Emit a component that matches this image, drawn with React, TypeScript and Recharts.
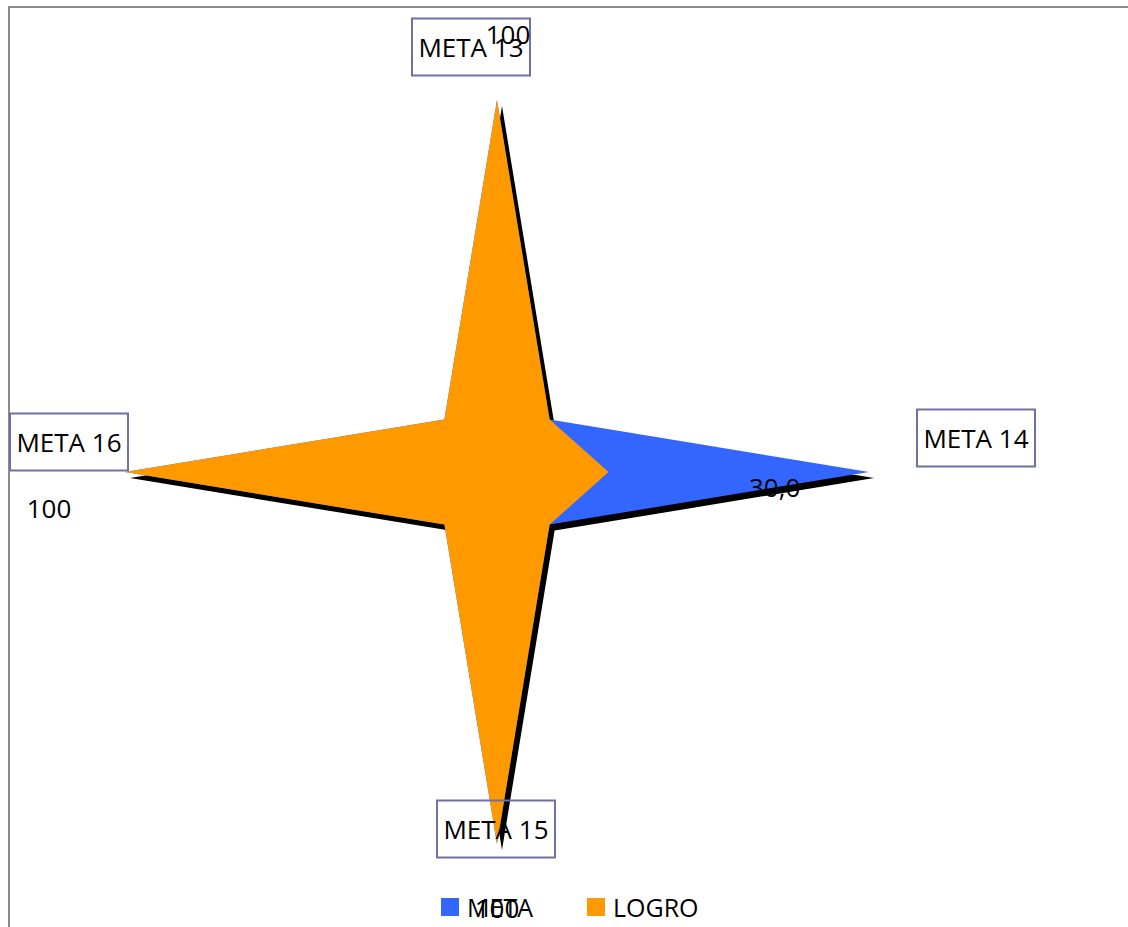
import { RadarChart, Radar, PolarAngleAxis, PolarRadiusAxis, Legend } from "recharts";

// blank diagonal spokes get distinct whitespace names so the category axis keeps all 8
const categories = ["META 13", " ", "META 14", "  ", "META 15", "   ", "META 16", "    "];
const metaValues = [100, 20, 100, 20, 100, 20, 100, 20];
const logroValues = [100, 20, 30, 20, 100, 20, 100, 20];
const logroLabels = ["100", "", "30,0", "", "100", "", "100", ""];
const seriesOrder = ["META", "LOGRO"];

const data = categories.map((name, i) => ({
  name,
  meta: metaValues[i],
  logro: logroValues[i],
}));

const CX = 497;
const CY = 472;
const R = 372;
const RADIAN = Math.PI / 180;
const FONT = "'Open Sans', sans-serif";

// nudges of the category boxes / value labels away from the axis tips
const boxNudge: Record<number, [number, number]> = {
  0: [-26, -53],
  2: [107, -34],
  4: [-1, -15],
  6: [-56, -30],
};
const labelNudge: Record<number, [number, number]> = {
  0: [11, -66],
  2: [166, 15],
  4: [0, 64],
  6: [-76, 36],
};

const CategoryTick = (props: any) => {
  const { payload, index } = props;
  const label = categories[index]?.trim();
  if (!label) return null;
  const angle = payload.coordinate;
  const x = CX + Math.cos(-angle * RADIAN) * R + boxNudge[index][0];
  const y = CY + Math.sin(-angle * RADIAN) * R + boxNudge[index][1];
  return (
    <g>
      <rect x={x - 59} y={y - 28.5} width={118} height={57} fill="none" stroke="#7070a3" strokeWidth={2} />
      <text x={x} y={y} textAnchor="middle" dominantBaseline="central" fontSize={26} fontFamily={FONT} fill="#000">
        {label}
      </text>
    </g>
  );
};

const ValueLabel = (props: any) => {
  const { x, y, index } = props;
  const text = logroLabels[index];
  if (!text) return null;
  return (
    <text
      x={x + labelNudge[index][0]}
      y={y + labelNudge[index][1]}
      textAnchor="middle"
      dominantBaseline="central"
      fontSize={26}
      fontFamily={FONT}
      fill="#000"
    >
      {text}
    </text>
  );
};

const ShadowShape = (props: any) => {
  const pts = (props.points || []).map((p: any) => `${p.x},${p.y}`).join(" ");
  return <polygon points={pts} fill="#000" transform="translate(5,6)" />;
};

const LegendContent = (props: any) => {
  const items = seriesOrder
    .map((n) => (props.payload || []).find((p: any) => p.value === n))
    .filter(Boolean);
  return (
    <div style={{ position: "relative", height: 30 }}>
      {items.map((item: any, i: number) => (
        <div
          key={item.value}
          style={{ position: "absolute", left: 441 + i * 146, top: 0, display: "flex", alignItems: "center" }}
        >
          <span style={{ width: 18, height: 18, background: item.color, display: "inline-block", marginRight: 8 }} />
          <span style={{ fontSize: 25, fontFamily: FONT, color: "#000", lineHeight: "30px" }}>{item.value}</span>
        </div>
      ))}
    </div>
  );
};

export default function App() {
  return (
    <div style={{ position: "absolute", left: 0, top: 0, width: 1128, height: 927, background: "#fff" }}>
      <div
        style={{
          position: "absolute",
          left: 8,
          top: 6,
          width: 1120,
          height: 921,
          borderTop: "2px solid #8c8c8c",
          borderLeft: "2px solid #8c8c8c",
          boxSizing: "border-box",
        }}
      />
      <div style={{ position: "absolute", left: 0, top: 0 }}>
        <RadarChart width={1128} height={927} data={data} cx={CX} cy={CY} outerRadius={R} margin={{ top: 0, right: 0, bottom: 0, left: 0 }}>
          <PolarAngleAxis dataKey="name" tick={<CategoryTick />} axisLine={false} tickLine={false} />
          <PolarRadiusAxis domain={[0, 100]} tick={false} axisLine={false} />
          <Radar
            name="shadow"
            dataKey="meta"
            legendType="none"
            shape={<ShadowShape />}
            isAnimationActive={false}
          />
          <Radar name="META" dataKey="meta" fill="#3366ff" fillOpacity={1} stroke="none" isAnimationActive={false} />
          <Radar
            name="LOGRO"
            dataKey="logro"
            fill="#ff9900"
            fillOpacity={1}
            stroke="none"
            label={<ValueLabel />}
            isAnimationActive={false}
          />
          <Legend
            verticalAlign="bottom"
            content={<LegendContent />}
            wrapperStyle={{ left: 0, top: 892, width: 1128 }}
          />
        </RadarChart>
      </div>
    </div>
  );
}
